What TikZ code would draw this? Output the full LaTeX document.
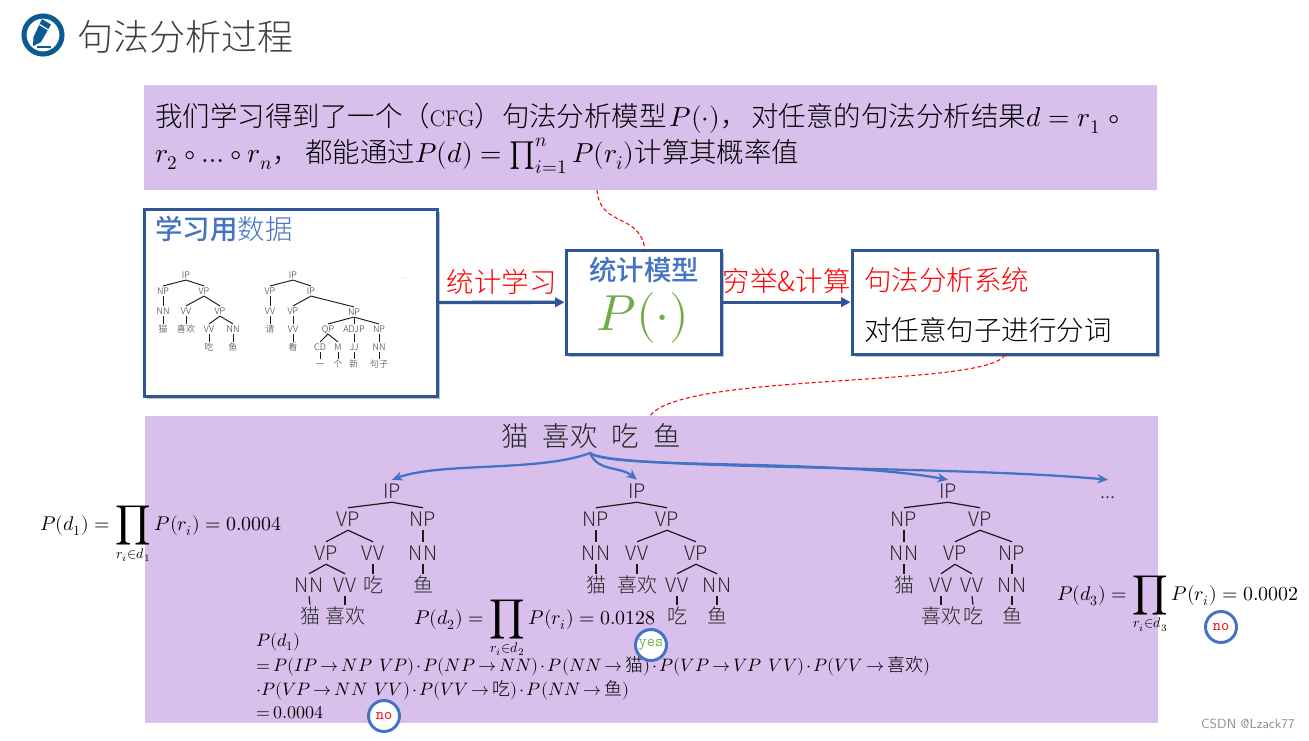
\documentclass[tikz,border=0pt]{standalone}
\usepackage{amsmath}
\usepackage{fontspec}
\usepackage{unicode-math}
\usepackage{xcolor}
\usetikzlibrary{shadows}
\usetikzlibrary{positioning, arrows.meta, calc}
\newfontfamily\cjk[UprightFont={* Light}, BoldFont={* Medium}]{Noto Sans CJK SC}
\newcommand{\zh}[1]{\text{\cjk #1}}
\newcommand{\bigprod}{\mathop{\vcenter{\hbox{\scalebox{1.4}{$\displaystyle\prod$}}}}}
\definecolor{purplebg}{HTML}{D9C0EC}
\definecolor{boxblue}{HTML}{2F5597}
\definecolor{curveblue}{HTML}{4472C4}
\definecolor{modelgreen}{HTML}{70AD47}
\definecolor{iconblue}{HTML}{0B5A94}
\definecolor{titlegray}{HTML}{404040}

\begin{document}
\begin{tikzpicture}[
    x=0.75pt, y=-0.75pt,
    panel/.style={fill=purplebg, draw=none},
    framebox/.style={draw=boxblue, line width=2.5pt, fill=white, drop shadow={shadow xshift=2pt, shadow yshift=-2pt, opacity=0.5}},
    bigtext/.style={anchor=west, inner sep=0pt, font=\cjk\fontsize{20.6}{25}\selectfont},
    label/.style={inner sep=0pt, font=\cjk\fontsize{20.6}{25}\selectfont},
    flow/.style={draw=boxblue, line width=2.5pt, -{Triangle[length=7pt, width=7pt]}},
    linkdash/.style={draw=red, densely dashed, line width=0.8pt},
    pick/.style={draw=curveblue, line width=1.7pt, -{Stealth[length=8pt, width=7pt]}},
    treebig/.style={inner sep=3pt, text height=10.5pt, text depth=0pt, font=\cjk\fontsize{15}{18}\selectfont, text=black!85},
    treesmall/.style={inner sep=1.2pt, text height=4.8pt, text depth=0pt, font=\cjk\fontsize{6.8}{8}\selectfont, text=black!80},
    edgebig/.style={line width=0.9pt, black!90},
    edgesmall/.style={line width=0.7pt, black!90},
    formula/.style={inner sep=0pt, font=\fontsize{14.9}{18}\selectfont},
    derive/.style={anchor=west, inner sep=0pt, font=\fontsize{13.5}{17}\selectfont},
    verdict/.style={draw=curveblue, circle, line width=2.2pt, fill=white, minimum size=31pt*0.75, inner sep=0pt, font=\ttfamily\fontsize{12}{13}\selectfont}
]
    \useasboundingbox (0,0) rectangle (1309,740);

    % ================= TITLE =================
    \draw[iconblue, line width=3.8pt] (43,35) circle (19);
    \fill[iconblue] (42,19) -- (51,24.5) -- (41,42) -- (33,46) -- (33.5,37) -- cycle;
    \draw[white, line width=0.9pt] (39.5,24.5) -- (48.5,30);
    \draw[iconblue, line width=1.5pt] (37,47) -- (51,47);
    \node[anchor=west, inner sep=0pt, text=titlegray, font=\cjk\fontsize{27}{32}\selectfont] (title) at (77,37) {句法分析过程};

    % ================= PANELS =================
    \node[panel, anchor=north west, minimum width=1013*0.75pt, minimum height=105*0.75pt, inner sep=0pt] (toppanel) at (144,85) {};
    \node[panel, anchor=north west, minimum width=1013*0.75pt, minimum height=307*0.75pt, inner sep=0pt] (lowpanel) at (145,416) {};

    \node[bigtext] (line_a) at (155,118.5) {我们学习得到了一个（{\rmfamily\fontsize{17}{20}\selectfont CFG}）句法分析模型\kern2pt$P(\cdot)$，\kern3pt对任意的句法分析结果$d=r_1\;\circ$};
    \node[bigtext] (line_b) at (155,156) {$r_2\circ\ldots\circ r_n$，\kern4pt都能通过$P(d)=\prod_{i=1}^{n}P(r_i)$计算其概率值};

    % ================= BOXES =================
    \node[framebox, anchor=north west, minimum width=293*0.75pt, minimum height=187*0.75pt, inner sep=0pt] (databox) at (142.5,207.5) {};
    \node[framebox, anchor=north west, minimum width=155*0.75pt, minimum height=104*0.75pt, inner sep=0pt] (modelbox) at (564.5,248.5) {};
    \node[framebox, anchor=north west, minimum width=305*0.75pt, minimum height=104*0.75pt, inner sep=0pt] (sysbox) at (850.5,248.5) {};

    \node[label, anchor=west, text=curveblue] (datatitle) at (155,229) {{\bfseries 学习用}数据};
    \node[label, text=curveblue] (modeltitle) at (644,270) {\bfseries 统计模型};
    \node[inner sep=0pt, text=modelgreen, font=\fontsize{38}{44}\selectfont] (modelsym) at (643,318) {$P(\cdot)$};
    \node[label, anchor=west, text=red] (systitle) at (864,280) {句法分析系统};
    \node[label, anchor=west, text=black] (systext) at (864,330) {对任意句子进行分词};

    % ================= FLOW ARROWS =================
    \draw[flow] (databox) -- (modelbox) node[midway, above=5pt, label, text=red] (flow_a) {统计学习};
    \draw[flow] (modelbox) -- (sysbox) node[midway, above=5pt, label, text=red] (flow_b) {穷举\&计算};

    % ================= DASHED LINKS =================
    \coordinate (link_a) at (597,190);
    \coordinate (link_b) at (645,250);
    \coordinate (link_c) at (1005,355);
    \coordinate (link_d) at (650,416);
    \draw[linkdash] (link_a) .. controls (600,228) and (640,212) .. (link_b);
    \draw[linkdash] (link_c) .. controls (985,388) and (680,372) .. (link_d);

    % ================= SMALL TREES =================
    % --- first tree ---
    \node[treesmall] (a_ip) at (186,275) {IP};
    \node[treesmall] (a_np) at (163,291) {NP};
    \node[treesmall] (a_vp) at (204,291) {VP};
    \node[treesmall] (a_nn) at (163,311) {NN};
    \node[treesmall] (a_vv) at (186,311) {VV};
    \node[treesmall] (a_vpb) at (220,311) {VP};
    \node[treesmall] (a_mao) at (163,329) {猫};
    \node[treesmall] (a_xh) at (186,329) {喜欢};
    \node[treesmall] (a_vvb) at (209,329) {VV};
    \node[treesmall] (a_nnb) at (233,329) {NN};
    \node[treesmall] (a_chi) at (209,347) {吃};
    \node[treesmall] (a_yu) at (233,347) {鱼};

    \draw[edgesmall] (a_ip.south) -- (a_np.north);
    \draw[edgesmall] (a_ip.south) -- (a_vp.north);
    \draw[edgesmall] (a_np.south) -- (a_nn.north);
    \draw[edgesmall] (a_vp.south) -- (a_vv.north);
    \draw[edgesmall] (a_vp.south) -- (a_vpb.north);
    \draw[edgesmall] (a_nn.south) -- (a_mao.north);
    \draw[edgesmall] (a_vv.south) -- (a_xh.north);
    \draw[edgesmall] (a_vpb.south) -- (a_vvb.north);
    \draw[edgesmall] (a_vpb.south) -- (a_nnb.north);
    \draw[edgesmall] (a_vvb.south) -- (a_chi.north);
    \draw[edgesmall] (a_nnb.south) -- (a_yu.north);

    % --- second tree ---
    \node[treesmall] (b_ip) at (293,275) {IP};
    \node[treesmall] (b_vp) at (270,291) {VP};
    \node[treesmall] (b_ipb) at (311,291) {IP};
    \node[treesmall] (b_vv) at (270,311) {VV};
    \node[treesmall] (b_vpb) at (293,311) {VP};
    \node[treesmall] (b_np) at (354,312) {NP};
    \node[treesmall] (b_qing) at (270,329) {请};
    \node[treesmall] (b_vvb) at (293,329) {VV};
    \node[treesmall] (b_qp) at (328,329) {QP};
    \node[treesmall] (b_adjp) at (354,329) {ADJP};
    \node[treesmall] (b_npb) at (379,329) {NP};
    \node[treesmall] (b_kan) at (293,347) {看};
    \node[treesmall] (b_cd) at (320,347) {CD};
    \node[treesmall] (b_m) at (338,347) {M};
    \node[treesmall] (b_jj) at (354,347) {JJ};
    \node[treesmall] (b_nn) at (379,347) {NN};
    \node[treesmall] (b_yi) at (320,364) {一};
    \node[treesmall] (b_ge) at (338,364) {个};
    \node[treesmall] (b_xin) at (354,364) {新};
    \node[treesmall] (b_juzi) at (379,364) {句子};
    \node[treesmall, font=\cjk\fontsize{4}{5}\selectfont] (b_more) at (404,275) {...};

    \draw[edgesmall] (b_ip.south) -- (b_vp.north);
    \draw[edgesmall] (b_ip.south) -- (b_ipb.north);
    \draw[edgesmall] (b_vp.south) -- (b_vv.north);
    \draw[edgesmall] (b_ipb.south) -- (b_vpb.north);
    \draw[edgesmall] (b_ipb.south) -- (b_np.north);
    \draw[edgesmall] (b_vv.south) -- (b_qing.north);
    \draw[edgesmall] (b_vpb.south) -- (b_vvb.north);
    \draw[edgesmall] (b_np.south) -- (b_qp.north);
    \draw[edgesmall] (b_np.south) -- (b_adjp.north);
    \draw[edgesmall] (b_np.south) -- (b_npb.north);
    \draw[edgesmall] (b_vvb.south) -- (b_kan.north);
    \draw[edgesmall] (b_qp.south) -- (b_cd.north);
    \draw[edgesmall] (b_qp.south) -- (b_m.north);
    \draw[edgesmall] (b_adjp.south) -- (b_jj.north);
    \draw[edgesmall] (b_npb.south) -- (b_nn.north);
    \draw[edgesmall] (b_cd.south) -- (b_yi.north);
    \draw[edgesmall] (b_m.south) -- (b_ge.north);
    \draw[edgesmall] (b_jj.south) -- (b_xin.north);
    \draw[edgesmall] (b_nn.south) -- (b_juzi.north);

    % ================= SENTENCE =================
    \node[label, text=black!85] (sentence) at (591,436) {猫 \kern6pt喜欢 \kern6pt吃 \kern6pt鱼};

    % ================= TREE ONE =================
    \node[treebig] (p_ip) at (392,491) {IP};
    \node[treebig] (p_vp) at (348,519) {VP};
    \node[treebig] (p_np) at (423,519) {NP};
    \node[treebig] (p_vpb) at (326,553) {VP};
    \node[treebig] (p_vv) at (373,553) {VV};
    \node[treebig] (p_nn) at (423,553) {NN};
    \node[treebig] (p_nnb) at (309,585) {NN};
    \node[treebig] (p_vvb) at (345,585) {VV};
    \node[treebig] (p_chi) at (373,585) {吃};
    \node[treebig] (p_yu) at (423,585) {鱼};
    \node[treebig] (p_mao) at (310,616) {猫};
    \node[treebig] (p_xh) at (345,616) {喜欢};

    \draw[edgebig] (p_ip.south) -- (p_vp.north);
    \draw[edgebig] (p_ip.south) -- (p_np.north);
    \draw[edgebig] (p_vp.south) -- (p_vpb.north);
    \draw[edgebig] (p_vp.south) -- (p_vv.north);
    \draw[edgebig] (p_np.south) -- (p_nn.north);
    \draw[edgebig] (p_vpb.south) -- (p_nnb.north);
    \draw[edgebig] (p_vpb.south) -- (p_vvb.north);
    \draw[edgebig] (p_vv.south) -- (p_chi.north);
    \draw[edgebig] (p_nn.south) -- (p_yu.north);
    \draw[edgebig] (p_nnb.south) -- (p_mao.north);
    \draw[edgebig] (p_vvb.south) -- (p_xh.north);

    % ================= TREE TWO =================
    \node[treebig] (q_ip) at (637,491) {IP};
    \node[treebig] (q_np) at (596,519) {NP};
    \node[treebig] (q_vp) at (667,519) {VP};
    \node[treebig] (q_nn) at (596,553) {NN};
    \node[treebig] (q_vv) at (637,553) {VV};
    \node[treebig] (q_vpb) at (696,553) {VP};
    \node[treebig] (q_mao) at (596,585) {猫};
    \node[treebig] (q_xh) at (637,585) {喜欢};
    \node[treebig] (q_vvb) at (677,585) {VV};
    \node[treebig] (q_nnb) at (717,585) {NN};
    \node[treebig] (q_chi) at (677,616) {吃};
    \node[treebig] (q_yu) at (717,616) {鱼};

    \draw[edgebig] (q_ip.south) -- (q_np.north);
    \draw[edgebig] (q_ip.south) -- (q_vp.north);
    \draw[edgebig] (q_np.south) -- (q_nn.north);
    \draw[edgebig] (q_vp.south) -- (q_vv.north);
    \draw[edgebig] (q_vp.south) -- (q_vpb.north);
    \draw[edgebig] (q_nn.south) -- (q_mao.north);
    \draw[edgebig] (q_vv.south) -- (q_xh.north);
    \draw[edgebig] (q_vpb.south) -- (q_vvb.north);
    \draw[edgebig] (q_vpb.south) -- (q_nnb.north);
    \draw[edgebig] (q_vvb.south) -- (q_chi.north);
    \draw[edgebig] (q_nnb.south) -- (q_yu.north);

    % ================= TREE THREE =================
    \node[treebig] (s_ip) at (948,491) {IP};
    \node[treebig] (s_np) at (904,519) {NP};
    \node[treebig] (s_vp) at (980,519) {VP};
    \node[treebig] (s_nn) at (904,553) {NN};
    \node[treebig] (s_vpb) at (955,553) {VP};
    \node[treebig] (s_npb) at (1012,553) {NP};
    \node[treebig] (s_mao) at (904,585) {猫};
    \node[treebig] (s_vv) at (941,585) {VV};
    \node[treebig] (s_vvb) at (972,585) {VV};
    \node[treebig] (s_nnb) at (1012,585) {NN};
    \node[treebig] (s_xh) at (941,616) {喜欢};
    \node[treebig] (s_chi) at (973,616) {吃};
    \node[treebig] (s_yu) at (1012,616) {鱼};
    \node[treebig] (s_more) at (1108,491) {...};

    \draw[edgebig] (s_ip.south) -- (s_np.north);
    \draw[edgebig] (s_ip.south) -- (s_vp.north);
    \draw[edgebig] (s_np.south) -- (s_nn.north);
    \draw[edgebig] (s_vp.south) -- (s_vpb.north);
    \draw[edgebig] (s_vp.south) -- (s_npb.north);
    \draw[edgebig] (s_nn.south) -- (s_mao.north);
    \draw[edgebig] (s_vpb.south) -- (s_vv.north);
    \draw[edgebig] (s_vpb.south) -- (s_vvb.north);
    \draw[edgebig] (s_npb.south) -- (s_nnb.north);
    \draw[edgebig] (s_vv.south) -- (s_xh.north);
    \draw[edgebig] (s_vvb.south) -- (s_chi.north);
    \draw[edgebig] (s_nnb.south) -- (s_yu.north);

    % ================= PICK ARROWS =================
    \coordinate (pick_o) at (590,453);
    \draw[pick] (pick_o) .. controls (540,472) and (440,462) .. (p_ip.north);
    \draw[pick] (pick_o) .. controls (598,472) and (620,466) .. (q_ip.north);
    \draw[pick] (pick_o) .. controls (610,470) and (830,458) .. (s_ip.north);
    \draw[pick] (pick_o) .. controls (610,470) and (950,465) .. (s_more.north);

    % ================= FORMULAS =================
    \node[formula] (prob_a) at (161,535) {$\displaystyle P(d_1)=\bigprod_{r_i\in d_1}P(r_i)=0.0004$};
    \node[formula] (prob_b) at (535,629) {$\displaystyle P(d_2)=\bigprod_{r_i\in d_2}P(r_i)=0.0128$};
    \node[formula] (prob_c) at (1178,605) {$\displaystyle P(d_3)=\bigprod_{r_i\in d_3}P(r_i)=0.0002$};

    \medmuskip=2mu
    \thickmuskip=3mu
    \node[derive] (der_a) at (256,642) {$P(d_1)$};
    \node[derive] (der_b) at (256,666) {$=P(IP\to NP\mkern7mu VP)\cdot P(NP\to NN)\cdot P(NN\to\zh{猫})\cdot P(VP\to VP\mkern7mu VV)\cdot P(VV\to\zh{喜欢})$};
    \node[derive] (der_c) at (256,690) {$\cdot P(VP\to NN\mkern7mu VV)\cdot P(VV\to\zh{吃})\cdot P(NN\to\zh{鱼})$};
    \node[derive] (der_d) at (256,713) {$=0.0004$};

    % ================= VERDICTS =================
    \node[verdict, text=red] (no_a) at (384,716) {no};
    \node[verdict, text=modelgreen] (yes_b) at (651,645) {yes};
    \node[verdict, text=red] (no_c) at (1221,627) {no};

    % ================= WATERMARK =================
    \node[anchor=east, inner sep=0pt, text=black!45, font=\fontsize{10}{11}\sffamily\selectfont] (mark) at (1295,724) {CSDN @Lzack77};

\end{tikzpicture}
\end{document}
